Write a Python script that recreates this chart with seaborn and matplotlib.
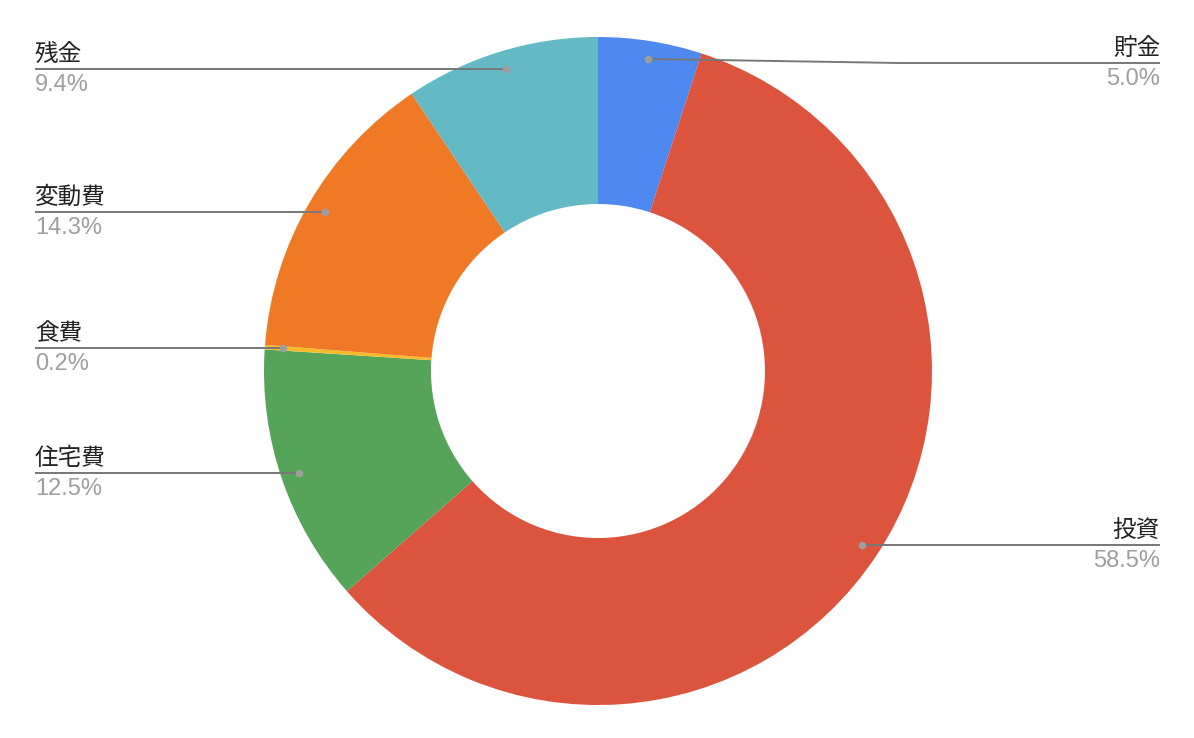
import matplotlib
matplotlib.use('Agg')
import matplotlib.pyplot as plt
import seaborn as sns
import numpy as np

# data (shares)
categories = ['貯金', '投資', '住宅費', '食費', '変動費', '残金']
shares = [5.02, 58.52, 12.49, 0.22, 14.33, 9.42]
colors = ['#4f88ef', '#dc533e', '#56a45a', '#f7bb2a', '#f07926', '#63b9c4']

W, H = 1194, 738
CX, CY = 598, 371
R_OUT = 334
R_HOLE = 167

sns.set_theme(style='white')
plt.rcParams['font.family'] = ['Noto Sans CJK JP', 'DejaVu Sans']

fig = plt.figure(figsize=(W / 100, H / 100), dpi=100)
ax = fig.add_axes([0, 0, 1, 1])

# y is flipped, so data-ccw is visually clockwise and -90 is the top
wedges, _ = ax.pie(shares, colors=colors, startangle=-90, counterclock=True,
                   center=(CX, CY), radius=R_OUT, frame=True,
                   wedgeprops=dict(width=R_OUT - R_HOLE, linewidth=0))
ax.set_xlim(0, W)
ax.set_ylim(H, 0)  # pixel coords, y going down
ax.axis('off')

total = sum(shares)
label_y_override = {'貯金': 63}
line_col = '#777777'
dot_col = '#9e9e9e'

for w, name, v in zip(wedges, categories, shares):
    mid = np.deg2rad((w.theta1 + w.theta2) / 2)
    ax_x = CX + 0.946 * R_OUT * np.cos(mid)
    ax_y = CY + 0.946 * R_OUT * np.sin(mid)
    ly = label_y_override.get(name, ax_y)
    pct = f'{v / total * 100:.1f}%'
    if ax_x < CX:
        tx, ha = 35, 'left'
        ax.plot([tx, ax_x], [ly, ax_y], color=line_col, lw=1.4, solid_capstyle='butt', zorder=3)
    else:
        tx, ha = 1160, 'right'
        bend = 900 if ly != ax_y else ax_x
        ax.plot([ax_x, bend, tx], [ax_y, ly, ly], color=line_col, lw=1.4, solid_capstyle='butt', zorder=3)
    ax.plot(ax_x, ax_y, 'o', color=dot_col, ms=5.5, mec='none', zorder=4)
    ax.text(tx, ly - 3, name, ha=ha, va='bottom', fontsize=17, color='#222222')
    ax.text(tx, ly + 5, pct, ha=ha, va='top', fontsize=17, color='#9e9e9e',
            family=['Liberation Sans', 'DejaVu Sans'])

fig.savefig('out.png', dpi=100, facecolor='white')
